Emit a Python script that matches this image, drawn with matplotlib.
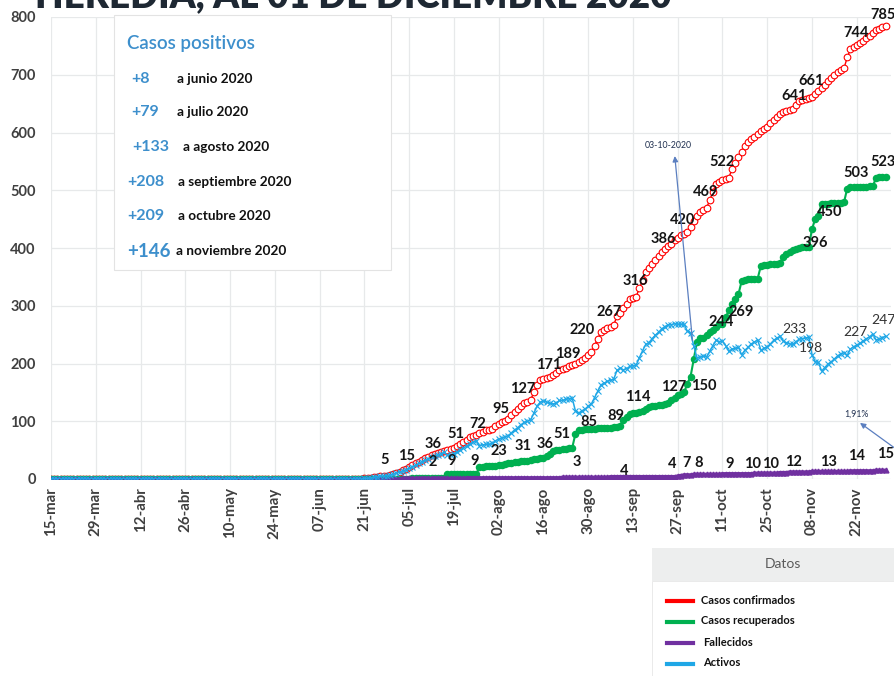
import matplotlib.pyplot as plt
import matplotlib.patches as patches
from matplotlib.lines import Line2D
import numpy as np

plt.rcParams['font.family'] = ['Lato', 'DejaVu Sans']

W, H = 894, 676

fechas = ['15-mar', '29-mar', '12-abr', '26-abr', '10-may', '24-may', '07-jun', '21-jun',
          '05-jul', '19-jul', '02-ago', '16-ago', '30-ago', '13-sep', '27-sep', '11-oct',
          '25-oct', '08-nov', '22-nov']

# acumulados diarios, dia 0 = 15-mar, ultimo dia = 01-dic
confirmados = [0] * 98 + [
    1, 1, 2, 3, 4, 5, 5, 6, 7, 8,
    10, 12, 15, 17, 20, 24, 27, 30, 33, 36,
    38, 41, 43, 45, 47, 49, 51, 52, 54, 57,
    61, 64, 68, 72, 75, 77, 80, 82, 84, 85,
    87, 91, 95, 98, 101, 104, 110, 116, 121, 127,
    131, 134, 137, 150, 163, 171, 173, 175, 177, 180,
    184, 189, 191, 193, 195, 197, 199, 202, 206, 210,
    215, 220, 231, 243, 254, 258, 261, 264, 267, 282,
    288, 296, 303, 311, 314, 316, 330, 344, 358, 365,
    373, 380, 386, 393, 398, 403, 407, 413, 418, 422,
    425, 428, 437, 446, 455, 463, 466, 469, 483, 497,
    511, 514, 517, 520, 522, 537, 547, 557, 567, 577,
    583, 589, 593, 598, 602, 606, 610, 616, 622, 627,
    632, 635, 637, 639, 641, 648, 654, 656, 658, 660,
    661, 666, 671, 677, 683, 689, 694, 699, 704, 708,
    711, 730, 744, 748, 752, 755, 759, 763, 767, 772,
    777, 780, 783, 785]

recuperados = [0] * 98 + [
    0, 0, 0, 0, 0, 0, 0, 0, 0, 0,
    0, 0, 0, 0, 0, 2, 2, 2, 2, 2,
    2, 2, 2, 2, 2, 2, 9, 9, 9, 9,
    9, 9, 9, 9, 9, 9, 20, 21, 22, 23,
    23, 23, 24, 25, 26, 27, 28, 29, 30, 31,
    31, 32, 33, 34, 35, 36, 36, 40, 44, 48,
    51, 51, 52, 52, 53, 54, 78, 85, 85, 86,
    86, 87, 87, 88, 88, 89, 89, 89, 90, 90,
    92, 103, 108, 112, 114, 115, 116, 118, 121, 125,
    126, 127, 128, 129, 130, 132, 136, 140, 145, 148,
    150, 165, 177, 207, 237, 244, 245, 250, 254, 258,
    263, 268, 269, 280, 292, 303, 312, 320, 343, 345,
    346, 346, 346, 347, 369, 370, 371, 372, 372, 373,
    374, 385, 390, 393, 396, 398, 400, 401, 402, 402,
    433, 450, 456, 477, 477, 477, 478, 478, 478, 478,
    479, 503, 505, 505, 506, 506, 506, 506, 507, 507,
    521, 523, 523, 523]

fallecidos = [0] * 98 + [
    0, 0, 0, 0, 0, 0, 0, 0, 0, 0,
    0, 0, 1, 1, 1, 1, 1, 1, 1, 1,
    1, 1, 1, 1, 1, 1, 1, 1, 1, 1,
    1, 1, 2, 2, 2, 2, 2, 2, 2, 2,
    2, 2, 2, 2, 2, 2, 2, 2, 2, 2,
    2, 2, 2, 2, 2, 2, 2, 2, 2, 2,
    2, 2, 3, 3, 3, 3, 3, 3, 3, 3,
    3, 3, 3, 3, 3, 3, 3, 4, 4, 4,
    4, 4, 4, 4, 4, 4, 4, 4, 4, 4,
    4, 4, 4, 4, 4, 4, 4, 4, 5, 6,
    7, 7, 7, 8, 8, 8, 8, 8, 8, 8,
    8, 8, 9, 9, 9, 9, 9, 9, 9, 9,
    9, 9, 10, 10, 10, 10, 10, 10, 10, 10,
    11, 11, 11, 12, 12, 12, 12, 12, 12, 12,
    13, 13, 13, 13, 13, 13, 13, 13, 13, 13,
    13, 13, 14, 14, 14, 14, 14, 14, 14, 14,
    15, 15, 15, 15]

activos = [0] * 98 + [
    1, 1, 2, 3, 4, 5, 5, 6, 7, 8,
    10, 12, 14, 16, 19, 21, 24, 27, 30, 33,
    35, 38, 40, 42, 44, 46, 41, 42, 44, 47,
    51, 54, 57, 61, 64, 66, 58, 59, 60, 60,
    62, 66, 69, 71, 73, 75, 80, 85, 89, 94,
    98, 100, 102, 114, 126, 133, 135, 133, 131, 130,
    131, 136, 136, 138, 139, 140, 118, 114, 118, 121,
    126, 130, 141, 152, 163, 166, 169, 171, 173, 188,
    192, 189, 191, 195, 196, 197, 210, 222, 233, 236,
    243, 249, 254, 260, 264, 267, 267, 269, 268, 268,
    268, 256, 253, 231, 210, 211, 213, 211, 221, 231,
    240, 238, 239, 231, 221, 225, 226, 228, 215, 223,
    228, 234, 237, 241, 223, 226, 229, 234, 240, 244,
    247, 239, 236, 234, 233, 238, 242, 243, 244, 246,
    215, 203, 202, 187, 193, 199, 203, 208, 213, 217,
    219, 214, 225, 229, 232, 235, 239, 243, 246, 251,
    241, 242, 245, 247]

# etiquetas de datos
conf_etq = ['5', '15', '36', '51', '72', '95', '127', '171', '189', '220', '267', '316',
            '386', '420', '469', '522', '641', '661', '744', '785']
conf_pos = [(104.4, 33), (111.3, 40), (119.5, 61), (126.6, 78), (133.5, 95), (140.7, 121),
            (147.6, 156), (155.7, 197), (161.7, 216), (166, 258), (174.5, 289), (182.6, 343),
            (191.4, 416), (197.6, 448), (204.8, 497), (209.8, 549), (232.3, 663), (237.6, 689),
            (251.7, 772), (260.2, 803)]
recu_etq = ['2', '9', '9', '23', '31', '36', '51', '85', '89', '114', '127', '150', '244',
            '269', '396', '450', '503', '523']
recu_pos = [(119.5, 29), (125.4, 31), (132.6, 31), (140, 48), (147.6, 57), (154.5, 61),
            (159.8, 78), (168.2, 99), (176.7, 109), (183.5, 142), (194.8, 159), (204.2, 161),
            (209.5, 272), (216, 289), (239, 409), (243.6, 462), (251.7, 530), (260.2, 549)]
fall_etq = ['3', '4', '4', '7', '8', '9', '10', '10', '12', '13', '14', '15']
fall_pos = [(164.5, 29), (179.2, 14), (194.2, 26), (198.9, 28), (202.6, 28), (212.3, 26),
            (219.5, 26), (225.1, 26), (232.3, 29), (243.3, 29), (252, 40), (261.1, 43)]
act_etq = ['233', '198', '227', '247']
act_pos = [(232.6, 260), (237.6, 227), (251.7, 255), (260.2, 275)]

nuevos = ['+8', '+79', '+133', '+208', '+209', '+146']
meses = ['a junio 2020', 'a julio 2020', 'a agosto 2020', 'a septiembre 2020',
         'a octubre 2020', 'a noviembre 2020']

series = ['Casos confirmados', 'Casos recuperados', 'Fallecidos', 'Activos']
colores = ['#FF0000', '#00B050', '#7030A0', '#1FA7E6']


def px(x, y):
    return x / W, 1 - y / H


fig = plt.figure(figsize=(W / 100, H / 100), dpi=100)
ax = fig.add_axes([51 / W, 1 - 479 / H, 840 / W, 462 / H])

dias = np.arange(len(confirmados))
ax.plot(dias, confirmados, color=colores[0], lw=1, marker='o', ms=4.8,
        mfc='white', mec=colores[0], mew=0.8, zorder=2)
ax.plot(dias, recuperados, color=colores[1], lw=1.5, marker='o', ms=4.4,
        mfc=colores[1], mec=colores[1], zorder=3)
ax.plot(dias, fallecidos, color=colores[2], lw=2.5, marker='^', ms=3.5,
        mfc=colores[2], mec=colores[2], zorder=4)
ax.plot(dias, activos, color=colores[3], lw=1.1, marker='x', ms=5,
        mec=colores[3], mew=0.8, zorder=5)

ax.set_xlim(0, 262.7)
ax.set_ylim(0, 800)
ax.set_xticks(np.arange(0, 253, 14))
ax.set_xticklabels(fechas, rotation=90, fontsize=10.8, fontweight='bold', color='#404040')
ax.set_yticks(np.arange(0, 801, 100))
ax.set_yticklabels([str(v) for v in range(0, 801, 100)], fontsize=10.5,
                   fontweight='bold', color='#404040')
ax.tick_params(axis='both', length=0)
ax.tick_params(axis='y', pad=11)
ax.tick_params(axis='x', pad=6)
ax.grid(True, color='#E7E9EA', lw=0.9)
ax.set_axisbelow(True)
for s in ax.spines.values():
    s.set_visible(False)

for etq, pos in zip(conf_etq + recu_etq + fall_etq, conf_pos + recu_pos + fall_pos):
    ax.text(pos[0], pos[1], etq, ha='center', va='center', fontsize=10.5,
            fontweight='bold', color='#151515', zorder=8, clip_on=False)
for etq, pos in zip(act_etq, act_pos):
    ax.text(pos[0], pos[1], etq, ha='center', va='center', fontsize=10,
            color='#333333', zorder=8, clip_on=False)

# anotaciones
ax.annotate('', xy=(195, 564), xytext=(200.7, 235),
            arrowprops=dict(arrowstyle='-|>', color='#5B7FC0', lw=0.9,
                            mutation_scale=8), zorder=9)
ax.text(193.2, 577, '03-10-2020', ha='center', va='center', fontsize=6.3,
        color='#1F2F4F', zorder=9)
ax.annotate('', xy=(252.3, 100), xytext=(265.5, 47),
            arrowprops=dict(arrowstyle='-|>', color='#5B7FC0', lw=0.9,
                            mutation_scale=8), annotation_clip=False, zorder=9)
ax.text(252, 113, '1,91%', ha='center', va='center', fontsize=6.3,
        color='#1F2F4F', zorder=9)

# titulo, recortado por el borde superior como en la imagen original
fig.text(*px(35, 7), 'HEREDIA, AL 01 DE DICIEMBRE 2020', ha='left', va='baseline',
         fontsize=26.5, fontweight='heavy', color='#1E2833')

# recuadro de casos positivos
x0, y0 = px(114, 270)
x1, y1 = px(391, 15)
fig.patches.append(patches.Rectangle((x0, y0), x1 - x0, y1 - y0, transform=fig.transFigure,
                                     facecolor='white', edgecolor='#E3E3E3', lw=0.8, zorder=5))
fig.text(*px(127, 43), 'Casos positivos', ha='left', va='center', fontsize=13.5,
         fontweight='semibold', color='#3D8FCC', zorder=6)
filas_y = [79, 112, 147, 182, 216, 251]
num_x = [131, 131, 132, 127, 127, 127]
txt_x = [177, 177, 183, 178, 178, 176]
num_fs = [11.5, 11.5, 11.5, 11.5, 11.5, 13.5]
for n, m, fy, nx, tx, fs in zip(nuevos, meses, filas_y, num_x, txt_x, num_fs):
    fig.text(*px(nx, fy), n, ha='left', va='center', fontsize=fs, fontweight='bold',
             color='#3D8FCC', zorder=6)
    fig.text(*px(tx, fy), m, ha='left', va='center', fontsize=9.8, fontweight='bold',
             color='#111111', zorder=6)

# recuadro de leyenda "Datos"
hx0, hy0 = px(652, 581)
hx1, hy1 = px(894, 548)
fig.patches.append(patches.Rectangle((hx0, hy0), hx1 - hx0, hy1 - hy0,
                                     transform=fig.transFigure, facecolor='#EDEEEE',
                                     edgecolor='none', zorder=5))
bx0, by0 = px(652, 676)
fig.patches.append(patches.Rectangle((bx0, by0), hx1 - bx0, hy0 - by0,
                                     transform=fig.transFigure, facecolor='white',
                                     edgecolor='#E6E6E6', lw=0.6, zorder=5))
fig.text(*px(783, 564), 'Datos', ha='center', va='center', fontsize=10,
         color='#5A5A5A', zorder=6)
ley_y = [601, 622, 643, 664]
ley_x = [701, 701, 703, 703]
for nombre, c, ly, lx in zip(series, colores, ley_y, ley_x):
    xa, ya = px(667, ly)
    xb, _ = px(693, ly)
    fig.lines.append(Line2D([xa, xb], [ya, ya], transform=fig.transFigure, color=c,
                            lw=3, zorder=6))
    fig.text(*px(lx, ly - 1), nombre, ha='left', va='center', fontsize=8,
             fontweight='bold', color='#111111', zorder=6)

fig.savefig('out.png', dpi=100)
